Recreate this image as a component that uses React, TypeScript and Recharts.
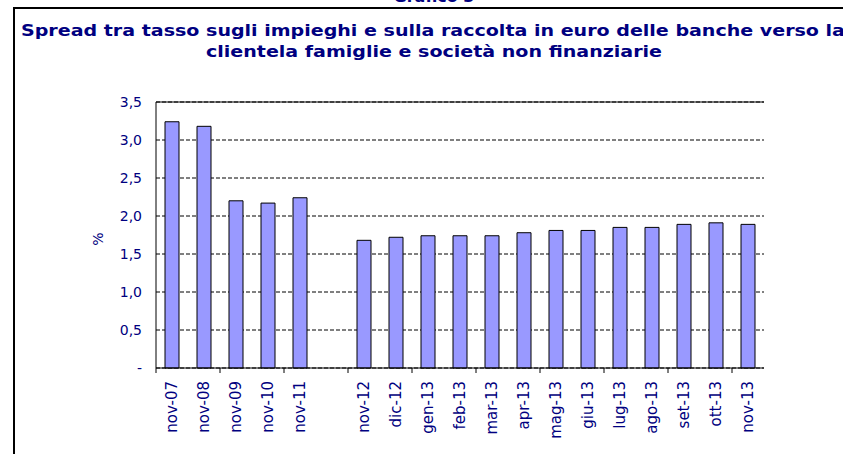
import { Bar, BarChart, CartesianGrid, ReferenceLine, XAxis, YAxis } from 'recharts'

const categories = [
  'nov-07', 'nov-08', 'nov-09', 'nov-10', 'nov-11', '',
  'nov-12', 'dic-12', 'gen-13', 'feb-13', 'mar-13', 'apr-13', 'mag-13',
  'giu-13', 'lug-13', 'ago-13', 'set-13', 'ott-13', 'nov-13',
]
const spread = [
  3.24, 3.18, 2.2, 2.17, 2.24, null,
  1.68, 1.72, 1.74, 1.74, 1.74, 1.78, 1.81,
  1.81, 1.85, 1.85, 1.89, 1.91, 1.89,
]
const yTicks = [0, 0.5, 1, 1.5, 2, 2.5, 3, 3.5]

const data = categories.map((name, i) => ({ name, spread: spread[i] }))

const NAVY = '#000080'
const FONT = '"DejaVu Sans", Verdana, sans-serif'

function XTick(props: any) {
  const { x, y, payload, index } = props
  const half = payload?.offset || 16
  const axisY = y - 9
  return (
    <g>
      {index % 2 === 0 && (
        <line x1={x - half} x2={x - half} y1={axisY} y2={axisY + 5} stroke='#000' />
      )}
      <text
        x={x}
        y={y + 4}
        transform={`rotate(-90, ${x}, ${y + 4})`}
        textAnchor='end'
        dy='0.35em'
        fill={NAVY}
        fontSize={15}
        fontFamily={FONT}
      >
        {payload.value}
      </text>
    </g>
  )
}

export default function App() {
  return (
    <div
      style={{
        position: 'absolute',
        left: 0,
        top: 0,
        width: 843,
        height: 454,
        overflow: 'hidden',
        background: '#fff',
        fontFamily: FONT,
      }}
    >
      <div
        style={{
          position: 'absolute',
          left: 0,
          width: 868,
          top: -13,
          textAlign: 'center',
          color: NAVY,
          fontWeight: 'bold',
          fontSize: 16,
        }}
      >
        Grafico 3
      </div>
      <div
        style={{
          position: 'absolute',
          left: 13,
          top: 7,
          width: 900,
          height: 500,
          border: '2px solid #000',
        }}
      />
      <div
        style={{
          position: 'absolute',
          left: 21,
          top: 21,
          whiteSpace: 'nowrap',
          color: NAVY,
          fontWeight: 'bold',
          fontSize: 16,
          transformOrigin: 'left top',
          transform: 'scaleX(1.19)',
        }}
      >
        Spread tra tasso sugli impieghi e sulla raccolta in euro delle banche verso la
      </div>
      <div
        style={{
          position: 'absolute',
          left: 0,
          width: 868,
          top: 42,
          textAlign: 'center',
          whiteSpace: 'nowrap',
          color: NAVY,
          fontWeight: 'bold',
          fontSize: 16,
          transform: 'scaleX(1.19)',
        }}
      >
        clientela famiglie e società non finanziarie
      </div>
      <BarChart
        width={843}
        height={454}
        data={data}
        margin={{ top: 102, right: 79, bottom: 0, left: 0 }}
        barSize={14}
        style={{ position: 'absolute', left: 0, top: 0 }}
      >
        <CartesianGrid vertical={false} stroke='#000' strokeDasharray='4 2' />
        <XAxis
          dataKey='name'
          interval={0}
          height={86}
          stroke='#000'
          tickLine={false}
          tickSize={5}
          tickMargin={4}
          tick={<XTick />}
        />
        <YAxis
          width={156}
          domain={[0, 3.5]}
          ticks={yTicks}
          stroke='#000'
          tickLine={false}
          tickSize={6}
          tickMargin={8}
          tick={{ fill: NAVY, fontSize: 14, fontFamily: FONT }}
          tickFormatter={(v: number) => (v === 0 ? '-' : v.toFixed(1).replace('.', ','))}
          label={{ value: '%', angle: -90, position: 'center', dx: 20, dy: 4, fill: NAVY, fontSize: 14, fontFamily: FONT }}
        />
        <YAxis
          yAxisId='r'
          orientation='right'
          width={0}
          domain={[0, 3.5]}
          stroke='#000'
          tick={false}
          tickLine={false}
        />
        <ReferenceLine y={3.5} stroke='#000' />
        <Bar
          dataKey='spread'
          fill='#9999FF'
          stroke='#000'
          strokeWidth={1}
          isAnimationActive={false}
        />
      </BarChart>
    </div>
  )
}
